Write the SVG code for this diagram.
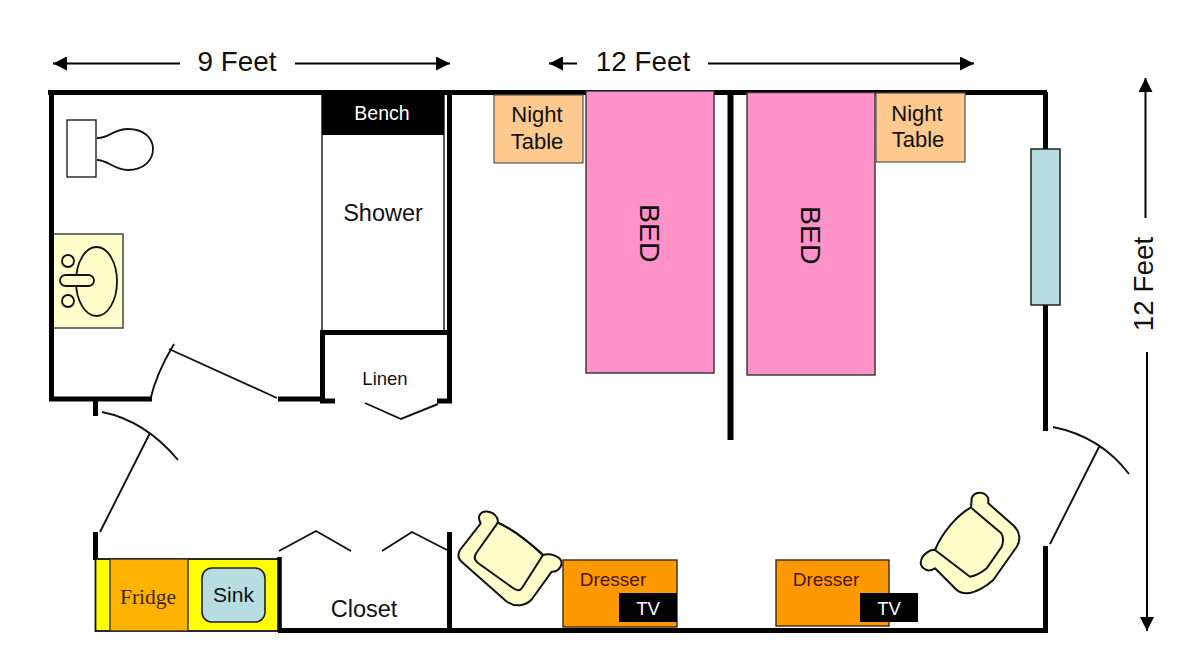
<svg xmlns="http://www.w3.org/2000/svg" width="1200" height="659" viewBox="0 0 1200 659">
<defs>
<marker id="ah" viewBox="0 0 10 10" refX="10" refY="5" markerWidth="14" markerHeight="14" markerUnits="userSpaceOnUse" orient="auto-start-reverse"><path d="M0 0L10 5L0 10z" fill="#000"/></marker>
</defs>
<style>
text{font-family:"Liberation Sans",Arial,sans-serif;fill:#111}
.wall{stroke:#000;stroke-width:5;fill:none}
.thin{stroke:#111;stroke-width:1.9;fill:none}
.dim{stroke:#000;stroke-width:2;fill:none;marker-end:url(#ah)}
.chair{fill:#ffffcc;stroke:#111;stroke-width:2;stroke-linejoin:round}
.line{fill:none;stroke:#111;stroke-width:2}
</style>
<rect width="1200" height="659" fill="#fff"/>
<g id="shower"><rect x="322" y="95" width="122" height="237" fill="#fff" stroke="#222" stroke-width="1.5"/><rect x="322" y="94" width="122" height="41" fill="#000"/><text x="382" y="120" font-size="19.500" text-anchor="middle" style="fill:#fff">Bench</text><text x="383" y="221" font-size="23.500" text-anchor="middle">Shower</text></g>
<g id="toilet"><rect x="67" y="120" width="29" height="57" fill="#fff" stroke="#222" stroke-width="1.4"/><path d="M97 138C108 139 113 129 128 129C144 129 153 138 153 149C153 160 144 170 128 170C114 170 108 160 97 160" fill="#fff" stroke="#111" stroke-width="1.800"/></g>
<g id="basin"><rect x="53" y="234" width="70" height="94" fill="#ffffcc" stroke="#444" stroke-width="1.5"/><ellipse cx="96.500" cy="281.500" rx="20.500" ry="34.500" fill="none" stroke="#111" stroke-width="1.800"/><circle cx="68" cy="261" r="6" fill="#ffffcc" stroke="#111" stroke-width="1.800"/><circle cx="68" cy="301" r="6" fill="#ffffcc" stroke="#111" stroke-width="1.800"/><rect x="60" y="275" width="34" height="11" rx="5.500" fill="#ffffcc" stroke="#111" stroke-width="1.800"/></g>
<g id="walls">
<path class="wall" d="M48 92.500H1047M1045.500 92V149M1045.500 305V431M1045.500 546V633M278 630.500H1047M51.500 92V400M49 399H152M278 399H322M322.500 332V403M320 332.500H452M449.500 92V403M320 401H335M437 401H452M95.500 400V416M95.500 532V560M449.500 532V630"/>
<path d="M730.500 94V440" stroke="#000" stroke-width="6" fill="none"/>
</g>
<g id="night-table-1"><rect x="494" y="95" width="89" height="68" fill="#fdc98f" stroke="#555" stroke-width="1.200"/><text x="537" y="122" font-size="22" text-anchor="middle">Night</text><text x="537" y="149" font-size="22" text-anchor="middle">Table</text></g>
<g id="bed-1"><rect x="586" y="91" width="128" height="282" fill="#ff92c9" stroke="#333" stroke-width="1.400"/><text transform="translate(640 204) rotate(90)" font-size="28.500">BED</text></g>
<g id="bed-2"><rect x="747" y="92.500" width="128" height="282.500" fill="#ff92c9" stroke="#333" stroke-width="1.400"/><text transform="translate(801 206) rotate(90)" font-size="28.500">BED</text></g>
<g id="night-table-2"><rect x="876" y="93" width="89" height="69" fill="#fdc98f" stroke="#555" stroke-width="1.200"/><text x="917" y="121" font-size="22" text-anchor="middle">Night</text><text x="918" y="147" font-size="22" text-anchor="middle">Table</text></g>
<g id="window"><rect x="1031" y="149" width="29" height="156" fill="#b7dde0" stroke="#222" stroke-width="1.500"/></g>
<g id="kitchenette"><rect x="95.500" y="559" width="184" height="72" fill="#ffff00" stroke="#111" stroke-width="1.800"/><rect x="110" y="559" width="78" height="72" fill="#ffb300" stroke="#333" stroke-width="1.400"/><text x="148" y="604" font-size="21.500" text-anchor="middle" style="font-family:'Liberation Serif',serif;fill:#3a2a00">Fridge</text><rect x="202" y="568" width="63" height="54" rx="10" fill="#b7dde0" stroke="#222" stroke-width="1.600"/><text x="233.500" y="602" font-size="21" text-anchor="middle">Sink</text><path d="M279.500 557V631" stroke="#000" stroke-width="4.500"/></g>
<g id="closet"><text x="364" y="617" font-size="23.500" text-anchor="middle">Closet</text></g>
<g id="linen"><text x="385" y="385" font-size="18.500" text-anchor="middle">Linen</text></g>
<g id="chair-1">
<path class="chair" d="M480.700 523.300C476 515 482 511 487 511.500C493 512 499 517 497.700 522.700C515 530 530 543 543 555C550 553 561 556 561.700 563C561 569 556 572 551.700 571.700L532 599C526 606 515 608 506 601L463 563C458 559 457 555 460 550z"/>
<path class="line" d="M497.700 522.700C496.500 524 496 525.500 495 526.700L477 552C474 556 474 560 478 563L513 588C517 591 520 591 522 588L543 555"/>
<path class="line" d="M497.700 522.700C515 530 530 543 543 555"/>
</g>
<g id="chair-2">
<path class="chair" d="M971 507.300L971.700 498C974 492 984 490 988.300 498.300L988.300 503.300L1014 526C1020 532 1021 540 1016.700 546.700L993.300 580C987 586 975 593 966.700 593.300C962 593.300 959 592 956.700 590L935 568.300C932 570 929 571 926.700 570C922 568 920 565 921 561C922 555 930 549 935 550C942 533 957 515 971 507.300z"/>
<path class="line" d="M971.700 508.300L1001 533C1004 537 1003 543 1001.700 546.700L986.700 568.300C981 573 975 576 970 576.700L935 550"/>
</g>
<g id="dresser-1"><rect x="563" y="560" width="114" height="67" fill="#ff9900" stroke="#3a2a10" stroke-width="1.400"/><text x="613" y="586" font-size="19" text-anchor="middle" style="fill:#4a1500">Dresser</text><rect x="619" y="593" width="58" height="29" fill="#000"/><text x="648" y="615" font-size="18.500" text-anchor="middle" style="fill:#fff">TV</text></g>
<g id="dresser-2"><rect x="776" y="560" width="113" height="66" fill="#ff9900" stroke="#3a2a10" stroke-width="1.400"/><text x="826" y="586" font-size="19" text-anchor="middle" style="fill:#4a1500">Dresser</text><rect x="860" y="593" width="58" height="29" fill="#000"/><text x="889" y="615" font-size="18.500" text-anchor="middle" style="fill:#fff">TV</text></g>
<g id="connectors">
<path class="dim" d="M180 63.500H53"/><path class="dim" d="M295 63.500H450"/><path class="dim" d="M577 63.500H549"/><path class="dim" d="M708 63.500H974"/><path class="dim" d="M1145.500 218V78"/><path class="dim" d="M1147 352V631"/>
<path class="thin" d="M150 401C154 382 162 364 174 344M169 349L277 398"/>
<path class="thin" d="M365 403L401 419L438 404"/>
<path class="thin" d="M102 412C132 418 158 436 178 460M150 433L100 532"/>
<path class="thin" d="M279 551L316 531L351 551M382 551L412 532L447 550"/>
<path class="thin" d="M1053 427C1083 433 1110 449 1129 474M1099 447L1050 544"/>
</g>
<g id="labels"><text x="237" y="71" font-size="27.800" text-anchor="middle">9 Feet</text><text x="643" y="71" font-size="27.800" text-anchor="middle">12 Feet</text><text transform="translate(1153 284) rotate(-90)" font-size="27.800" text-anchor="middle">12 Feet</text></g>
</svg>
